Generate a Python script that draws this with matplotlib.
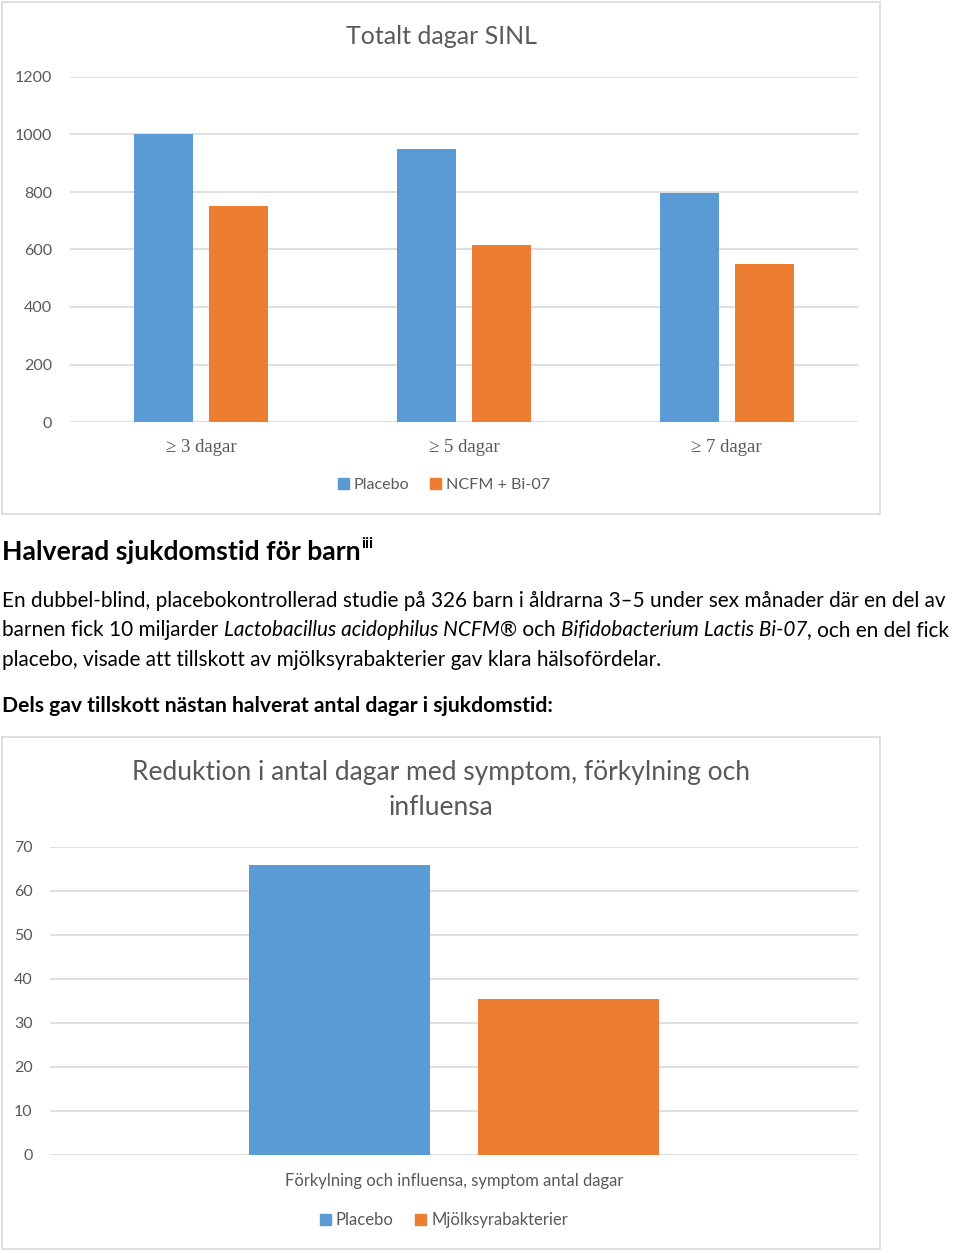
import matplotlib
matplotlib.use("Agg")
import matplotlib.pyplot as plt
from matplotlib.patches import Rectangle, Patch
import numpy as np

# ---------------- data ----------------
top_title = "Totalt dagar SINL"
top_categories = ["\u2265 3 dagar", "\u2265 5 dagar", "\u2265 7 dagar"]
top_series_names = ["Placebo", "NCFM + Bi-07"]
top_placebo = [1000, 950, 795]
top_ncfm = [750, 615, 548]
top_yticks = [0, 200, 400, 600, 800, 1000, 1200]

bot_title = "Reduktion i antal dagar med symptom, förkylning och\ninfluensa"
bot_category = ["Förkylning och influensa, symptom antal dagar"]
bot_series_names = ["Placebo", "Mjölksyrabakterier"]
bot_placebo = [66]
bot_mjolk = [35.5]
bot_yticks = [0, 10, 20, 30, 40, 50, 60, 70]

heading = "Halverad sjukdomstid för barn"
heading_sup = "iii"
body_lines = [
    [("En dubbel-blind, placebokontrollerad studie på 326 barn i åldrarna 3\u20135 under sex månader där en del av", "normal")],
    [("barnen fick 10 miljarder ", "normal"), ("Lactobacillus acidophilus NCFM\u00ae", "italic"),
     (" och ", "normal"), ("Bifidobacterium Lactis Bi-07", "italic"), (", och en del fick", "normal")],
    [("placebo, visade att tillskott av mjölksyrabakterier gav klara hälsofördelar.", "normal")],
]
subheading = "Dels gav tillskott nästan halverat antal dagar i sjukdomstid:"

# ---------------- style ----------------
BLUE = "#5B9BD5"
ORANGE = "#ED7D31"
GRID = "#D9D9D9"
GRAYTXT = "#595959"
FONT = ["Lato", "DejaVu Sans"]
SERIF = ["Liberation Serif", "DejaVu Serif"]
plt.rcParams["font.family"] = FONT

W, H = 960, 1253
fig = plt.figure(figsize=(W / 100, H / 100), dpi=100)
fig.patch.set_facecolor("white")


def fx(px):
    return px / W


def fy(py):
    return 1 - py / H


def axes_px(left, top, right, bottom):
    return fig.add_axes([fx(left), fy(bottom), (right - left) / W, (bottom - top) / H])


# frames around charts
for (l, t, r, b) in [(2, 2, 880, 514), (2, 737, 880, 1249)]:
    fig.add_artist(Rectangle((fx(l), fy(b)), (r - l) / W, (b - t) / H, transform=fig.transFigure,
                             fill=False, edgecolor=GRID, linewidth=1.2))


def style_axes(ax, yticks, pad):
    ax.set_ylim(yticks[0], yticks[-1])
    ax.set_yticks(yticks)
    for s in ax.spines.values():
        s.set_visible(False)
    ax.yaxis.grid(True, color=GRID, linewidth=1.2)
    ax.set_axisbelow(True)
    ax.tick_params(axis="both", length=0)
    ax.tick_params(axis="y", labelsize=11.5, labelcolor=GRAYTXT, pad=pad)


# ---------------- top chart ----------------
ax1 = axes_px(70, 77, 858, 422)
x = np.arange(len(top_categories))
bw = 0.2246
off = bw / 2 + 0.0305
ax1.bar(x - off, top_placebo, width=bw, color=BLUE, label=top_series_names[0], zorder=3)
ax1.bar(x + off, top_ncfm, width=bw, color=ORANGE, label=top_series_names[1], zorder=3)
ax1.set_xlim(-0.5, len(top_categories) - 0.5)
style_axes(ax1, top_yticks, 13)
ax1.set_xticks(x)
ax1.set_xticklabels(top_categories, fontfamily=SERIF, fontsize=13.5, color=GRAYTXT)
ax1.tick_params(axis="x", pad=12)
fig.text(fx(441), fy(36), top_title, ha="center", va="center", fontsize=18, color=GRAYTXT)
fig.legend(handles=[Patch(color=BLUE, label=top_series_names[0]),
                    Patch(color=ORANGE, label=top_series_names[1])],
           loc="center", bbox_to_anchor=(fx(444), fy(485)), ncol=2, frameon=False,
           fontsize=11.6, handlelength=0.65, handleheight=0.65, handletextpad=0.3,
           columnspacing=1.3, labelcolor=GRAYTXT)

# ---------------- bottom chart ----------------
ax2 = axes_px(50, 847, 858, 1155)
xb = np.arange(len(bot_category))
bw2 = 0.224
off2 = 0.1423
ax2.bar(xb - off2, bot_placebo, width=bw2, color=BLUE, label=bot_series_names[0], zorder=3)
ax2.bar(xb + off2, bot_mjolk, width=bw2, color=ORANGE, label=bot_series_names[1], zorder=3)
ax2.set_xlim(-0.5, 0.5)
style_axes(ax2, bot_yticks, 12.5)
ax2.set_xticks(xb)
ax2.set_xticklabels(bot_category, fontsize=12, color=GRAYTXT)
ax2.tick_params(axis="x", pad=13)
fig.text(fx(441), fy(790), bot_title, ha="center", va="center", fontsize=19, color=GRAYTXT,
         linespacing=1.48)
fig.legend(handles=[Patch(color=BLUE, label=bot_series_names[0]),
                    Patch(color=ORANGE, label=bot_series_names[1])],
           loc="center", bbox_to_anchor=(fx(444), fy(1220)), ncol=2, frameon=False,
           fontsize=12, handlelength=0.65, handleheight=0.65, handletextpad=0.3,
           columnspacing=1.3, labelcolor=GRAYTXT)

# ---------------- body text ----------------
renderer = fig.canvas.get_renderer()


def text_width(s, size, style="normal", weight="normal"):
    t = fig.text(0, 0, s + "x", fontsize=size, style=style, weight=weight)
    t2 = fig.text(0, 0, "x", fontsize=size, style=style, weight=weight)
    w = t.get_window_extent(renderer).width - t2.get_window_extent(renderer).width
    t.remove()
    t2.remove()
    return w


def draw_runs(x0, baseline, runs, size, weight="normal", color="black"):
    xp = x0
    for s, st in runs:
        fig.text(fx(xp), fy(baseline), s, fontsize=size, style=st, weight=weight,
                 color=color, ha="left", va="baseline")
        xp += text_width(s, size, st, weight)
    return xp


# fit body size so the first line spans the page width like the reference
ref = text_width(body_lines[0][0][0], 10)
body_size = 10 * 946 / ref

hsize = body_size * 1.28
xe = draw_runs(2, 560, [(heading, "normal")], hsize, weight="bold")
fig.text(fx(xe + 1), fy(548), heading_sup, fontsize=hsize * 0.6, weight="bold", ha="left",
         va="baseline")

for i, runs in enumerate(body_lines):
    draw_runs(2, 607 + i * 29.5, runs, body_size)

draw_runs(2, 712, [(subheading, "normal")], body_size * 1.017, weight="bold")

fig.savefig("out.png", dpi=100, facecolor="white")
